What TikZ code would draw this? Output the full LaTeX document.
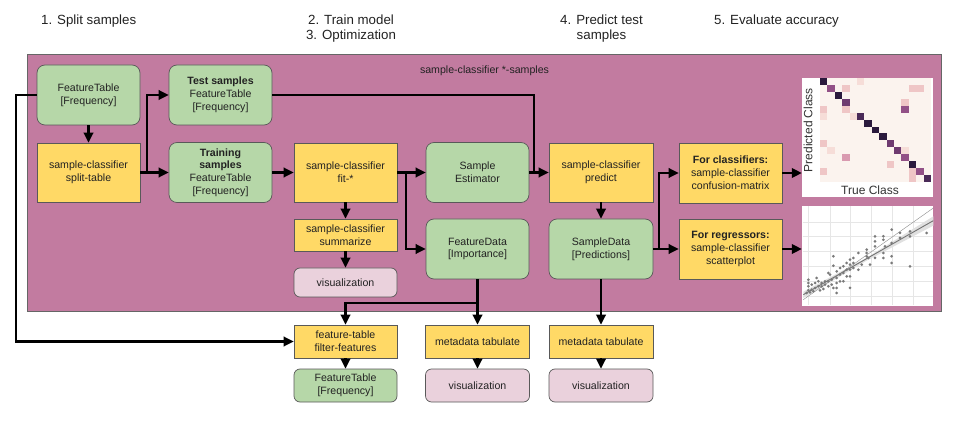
\documentclass[tikz,border=0pt]{standalone}
\usepackage{fontspec}
\setmainfont{Liberation Sans}
\usetikzlibrary{arrows.meta,calc}
\definecolor{purp}{HTML}{C27BA0}
\definecolor{grn}{HTML}{B6D7A8}
\definecolor{ylw}{HTML}{FFD966}
\definecolor{pnk}{HTML}{EAD1DC}
\definecolor{bord}{HTML}{595959}
\definecolor{txt}{HTML}{222222}
\definecolor{cream}{HTML}{FBF3EE}
\definecolor{da}{HTML}{2B1A3D}
\definecolor{db}{HTML}{4A2A58}
\definecolor{dc}{HTML}{6E3A70}
\definecolor{dd}{HTML}{925086}
\definecolor{pa}{HTML}{D99AB0}
\definecolor{pb}{HTML}{EFC6C6}
\definecolor{pc}{HTML}{F6DDD8}
\definecolor{grid}{HTML}{E6E6E6}
\definecolor{dot}{HTML}{7A7A7A}
\begin{document}
\begin{tikzpicture}[x=1pt,y=-1pt,
  box/.style={draw=bord, line width=0.7pt, align=center, inner sep=0pt, text=txt,
    font=\fontsize{10.6}{12.8}\selectfont},
  gbox/.style={box, fill=grn, rounded corners=8pt, minimum width=103pt, minimum height=60pt},
  ybox/.style={box, fill=ylw, minimum width=103pt, minimum height=59pt},
  sbox/.style={box, fill=ylw, minimum width=103pt, minimum height=33pt},
  vbox/.style={box, fill=pnk, rounded corners=6pt, minimum width=103pt, minimum height=30pt},
  sgbox/.style={box, fill=grn, rounded corners=6pt, minimum width=103pt, minimum height=33pt},
  hdr/.style={align=center, inner sep=0pt, text=txt, font=\fontsize{13.3}{15}\selectfont},
  conn/.style={line width=2.1pt, draw=black},
  arr/.style={conn, -{Triangle[length=10pt,width=9.5pt]}},
  panel/.style={fill=white, draw=none, inner sep=0pt}
]
\useasboundingbox (0,0) rectangle (960,427);

% headers
\node[hdr] (h1) at (88.7,20.7) {1. Split samples};
\node[hdr] (h2) at (351,28.2) {2. Train model\\3. Optimization};
\node[hdr] (h4) at (601.5,28.2) {4. Predict test\\samples};
\node[hdr] (h5) at (776.5,20.7) {5. Evaluate accuracy};

% container
\draw[fill=purp, draw=black!60, line width=0.8pt] (27,54) rectangle (941,311);
\node[box, draw=none, fill=none] (lab) at (484.5,71) {sample-classifier *-samples};

% nodes
\node[gbox] (ft1) at (88.5,95) {FeatureTable\\{[Frequency]}};
\node[ybox] (split) at (88.5,172.5) {sample-classifier\\split-table};
\node[gbox] (test) at (220.5,95) {\textbf{Test samples}\\FeatureTable\\{[Frequency]}};
\node[gbox] (train) at (220.5,172.5) {\textbf{Training}\\\textbf{samples}\\FeatureTable\\{[Frequency]}};
\node[ybox] (fit) at (345.5,172.5) {sample-classifier\\fit-*};
\node[sbox, minimum height=32pt] (summ) at (345.5,235) {sample-classifier\\summarize};
\node[vbox, minimum height=29pt] (vis1) at (345.5,282.5) {visualization};
\node[gbox] (est) at (477.5,172.5) {Sample\\Estimator};
\node[gbox] (fdata) at (477.5,249) {FeatureData\\{[Importance]}};
\node[ybox, minimum width=104pt] (pred) at (601,172.5) {sample-classifier\\predict};
\node[gbox, minimum width=104pt] (sdata) at (601,249) {SampleData\\{[Predictions]}};
\node[ybox, minimum height=60pt] (clf) at (730.5,173) {\textbf{For classifiers:}\\sample-classifier\\confusion-matrix};
\node[ybox, minimum height=60pt] (reg) at (730.5,249) {\textbf{For regressors:}\\sample-classifier\\scatterplot};
\node[sbox] (filt) at (345.5,341.5) {feature-table\\filter-features};
\node[sgbox] (ft2) at (345.5,385.5) {FeatureTable\\{[Frequency]}};
\node[sbox, minimum width=104pt] (meta1) at (477.5,341.5) {metadata tabulate};
\node[vbox, minimum height=33pt, minimum width=104pt] (vis2) at (477.5,385.5) {visualization};
\node[sbox, minimum width=104pt] (meta2) at (601,341.5) {metadata tabulate};
\node[vbox, minimum height=33pt, minimum width=104pt] (vis3) at (601,385.5) {visualization};

% confusion matrix panel
\node[panel, minimum width=131pt, minimum height=119pt] (cm) at (867.5,137.5) {};
\fill[cream] (820,78) rectangle (931,182);
\foreach \c/\r/\col in {0/0/da,1/1/dd,2/2/da,3/3/dc,5/5/db,6/6/da,7/7/da,8/8/da,9/9/dc,10/10/dc,11/11/dd,12/12/da,13/13/dd,14/14/db,
  5/0/pc,3/1/pb,12/1/pb,13/1/pb,11/3/pb,11/4/dd,0/4/pb,3/4/pb,0/5/pc,4/5/pc,0/9/pb,1/10/pc,11/10/pc,3/11/pa,9/12/pb,0/13/pb,12/13/pb,12/14/pb}
  \fill[\col] ({820+\c*7.4},{78+\r*6.93}) rectangle ++(7.4,6.93);
\node[inner sep=0pt, rotate=90, text=black!80, font=\fontsize{12}{12}\selectfont] (pcl) at (808,130) {Predicted Class};
\node[inner sep=0pt, text=black!80, font=\fontsize{12}{12}\selectfont] (tcl) at (870,190.5) {True Class};

% scatter panel
\node[panel, minimum width=131pt, minimum height=100pt] (sp) at (867.5,256) {};
\begin{scope}[shift={(800pt,-203pt)}, x=0.3333pt, y=-0.3333pt]
  \clip (8,10) rectangle (400,305);
  \foreach \gx in {25,90,152,215,278,340} \draw[grid, line width=0.7pt] (\gx,10) -- (\gx,305);
  \foreach \gy in {58,100,145,190,235,280} \draw[grid, line width=0.7pt] (8,\gy) -- (400,\gy);
  \fill[black!12] (10,266) -- (200,164) -- (400,40) -- (400,68) -- (200,173) -- (10,285) -- cycle;
  \draw[black!45, line width=0.4pt] (10,290) -- (400,15);
  \draw[black!55, line width=0.9pt] (10,275) -- (400,53);
  \foreach \px/\py in {25/230,25/240,25/250,25/262,35/245,35/260,45/240,45/255,50/225,55/235,55/250,65/240,65/250,75/235,75/245,
    85/210,85/235,85/250,95/230,95/245,100/160,100/188,100/255,110/205,110/225,110/240,110/255,110/270,120/195,120/215,120/235,
    130/190,130/210,130/235,140/180,140/200,140/220,150/170,150/185,150/200,150/220,150/255,160/165,160/180,160/195,175/150,175/200,
    200/140,200/150,200/160,205/165,225/100,225/115,225/130,225/165,250/100,250/110,250/150,250/165,255/130,275/80,275/120,275/160,
    275/180,300/90,300/105,330/85,330/100,330/190,380/90,210/185,185/185,20/270,30/268,40/265,60/262,70/258,90/215}
    \fill[dot] (\px,\py) circle[radius=4.5];
\end{scope}

% connectors
\draw[arr] (ft1.south) -- (split.north);
\draw[arr] (split.east) -- ++(7,0) |- (test.west);
\draw[arr] (split.east) -- (train.west);
\draw[arr] (train.east) -- (fit.west);
\draw[arr] (fit.east) -- (est.west);
\draw[arr] (fit.east) -- ++(9,0) |- (fdata.west);
\draw[arr] (fit.south) -- (summ.north);
\draw[arr] (summ.south) -- (vis1.north);
\draw[conn] (test.east) -| ([xshift=-15pt]pred.west);
\draw[arr] (est.east) -- (pred.west);
\draw[arr] (pred.south) -- (sdata.north);
\draw[arr] (sdata.east) -- ++(6,0) |- (clf.west);
\draw[arr] (sdata.east) -- (reg.west);
\draw[arr] (clf.east) -- (clf.east -| cm.west);
\draw[arr] (reg.east) -- (reg.east -| sp.west);
\draw[arr] (fdata.south) -- (meta1.north);
\draw[arr] ([yshift=-24pt]fdata.south) -| (filt.north);
\draw[arr] (sdata.south) -- (meta2.north);
\draw[arr] (meta1.south) -- (vis2.north);
\draw[arr] (meta2.south) -- (vis3.north);
\draw[arr] (filt.south) -- (ft2.north);
\draw[arr] (ft1.west) -- ++(-21,0) |- (filt.west);
\end{tikzpicture}
\end{document}
